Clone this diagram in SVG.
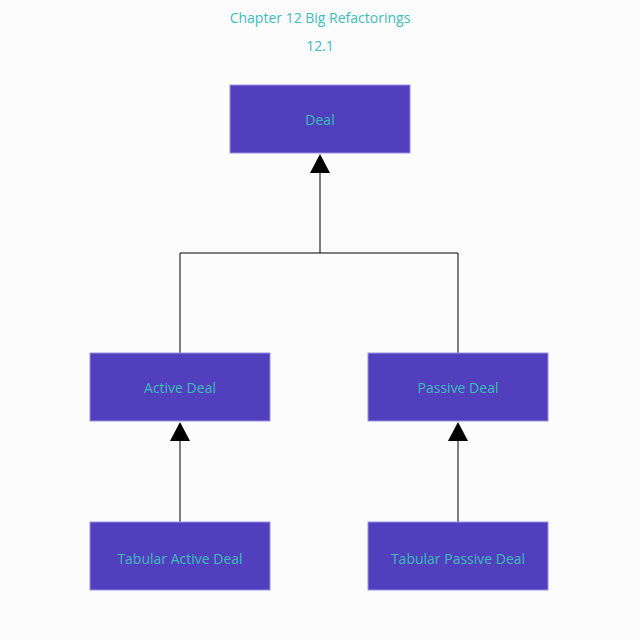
<svg xmlns="http://www.w3.org/2000/svg" width="640" height="640" viewBox="0 0 640 640">
<style>
.bg{fill:#fcfcfc}
.box{fill:#523fbd;stroke:#9b90e0;stroke-width:1}
.lbl{font-family:"Open Sans","Noto Sans",sans-serif;font-size:14px;fill:#3bbdbc;text-anchor:middle;dominant-baseline:central}
.ttl{font-family:"Open Sans","Noto Sans",sans-serif;font-size:14px;fill:#3bbdbc;text-anchor:middle}
.edge{fill:none;stroke:#000;stroke-width:1}
.head{fill:#000;stroke:none}
</style>
<rect class="bg" x="0" y="0" width="640" height="640"/>
<text class="ttl" x="320" y="23">Chapter 12 Big Refactorings</text>
<text class="ttl" x="320" y="51">12.1</text>
<g id="connectors">
<path class="edge" d="M320 253 V172 M180 353 V253 H458 V353"/>
<polygon class="head" points="320,154 310,173 330,173"/>
<path class="edge" d="M180 522 V440"/>
<polygon class="head" points="180,422 170,441 190,441"/>
<path class="edge" d="M458 522 V440"/>
<polygon class="head" points="458,422 448,441 468,441"/>
</g>
<g id="deal"><rect class="box" x="230" y="85" width="180" height="68"/><text class="lbl" x="320" y="119">Deal</text></g>
<g id="active-deal"><rect class="box" x="90" y="353" width="180" height="68"/><text class="lbl" x="180" y="387">Active Deal</text></g>
<g id="passive-deal"><rect class="box" x="368" y="353" width="180" height="68"/><text class="lbl" x="458" y="387">Passive Deal</text></g>
<g id="tabular-active-deal"><rect class="box" x="90" y="522" width="180" height="68"/><text class="lbl" x="180" y="558">Tabular Active Deal</text></g>
<g id="tabular-passive-deal"><rect class="box" x="368" y="522" width="180" height="68"/><text class="lbl" x="458" y="558">Tabular Passive Deal</text></g>
</svg>
